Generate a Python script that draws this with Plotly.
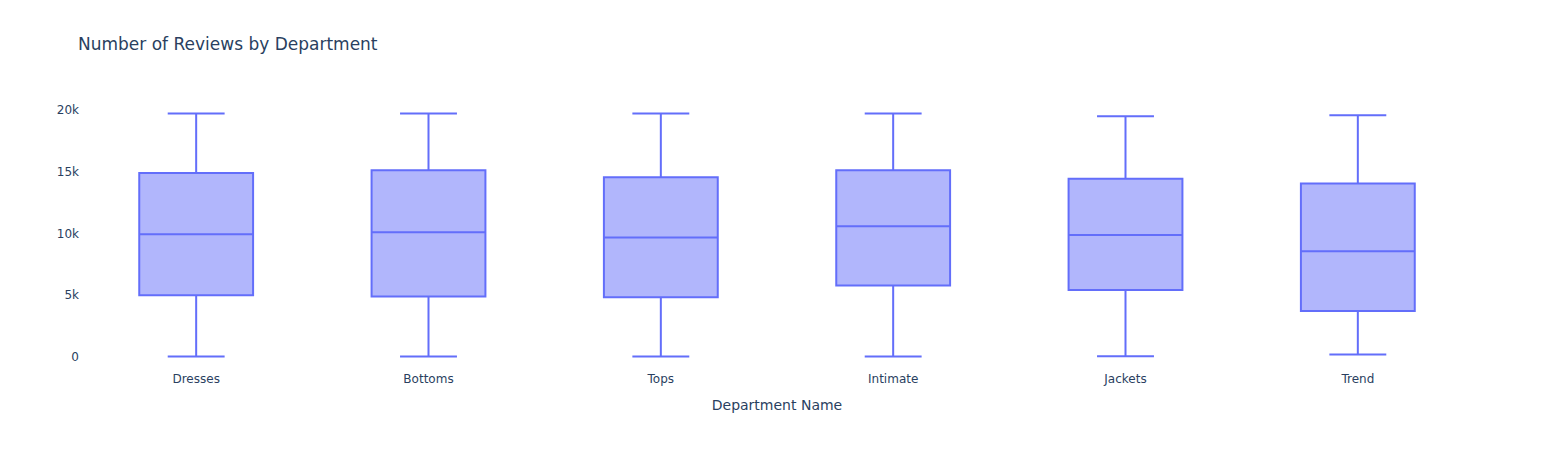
import plotly.graph_objects as go

departments = ["Dresses", "Bottoms", "Tops", "Intimate", "Jackets", "Trend"]
lower_fence = [30, 30, 30, 30, 60, 190]
q1_values = [5000, 4900, 4840, 5790, 5430, 3730]
median_values = [9950, 10110, 9680, 10600, 9890, 8570]
q3_values = [14920, 15140, 14570, 15140, 14440, 14060]
upper_fence = [19740, 19740, 19740, 19740, 19520, 19600]

fig = go.Figure(
    go.Box(
        x=departments,
        q1=q1_values,
        median=median_values,
        q3=q3_values,
        lowerfence=lower_fence,
        upperfence=upper_fence,
        marker_color="#636efa",
        name="",
    )
)

fig.update_layout(
    template="plotly_white",
    width=1554,
    height=450,
    font=dict(family="Verdana, DejaVu Sans, sans-serif"),
    margin=dict(l=72, r=88, t=92, b=88),
    title=dict(text="Number of Reviews by Department", x=70 / 1554, xanchor="left",
               y=1 - 36 / 450, yanchor="middle"),
    xaxis=dict(title=dict(text="Department Name"), showgrid=False, zeroline=False),
    yaxis=dict(showgrid=False, zeroline=False),
    showlegend=False,
)

fig.write_html("out.html")
